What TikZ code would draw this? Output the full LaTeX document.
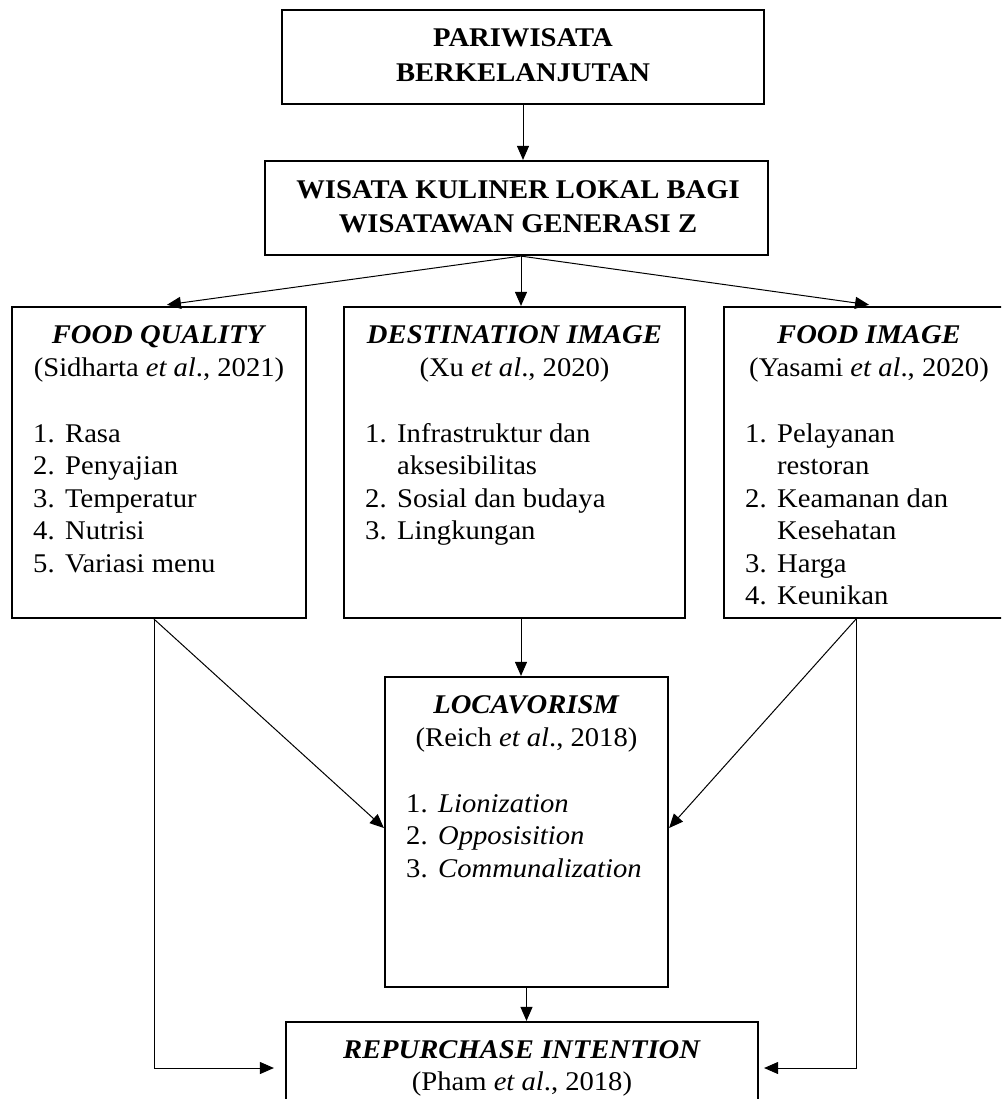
\documentclass[tikz,border=0pt]{standalone}
\usepackage{fontspec}
\setmainfont{Liberation Serif}[FakeStretch=1.06]
\usetikzlibrary{arrows.meta,calc}
\newcommand\diagsize{\fontsize{27}{32.5}\selectfont}

\tikzset{
  box/.style={draw, line width=2.2pt, rectangle, inner sep=0pt, anchor=center},
  conn/.style={line width=1pt, -{Triangle[length=14pt,width=12pt]}},
  txt/.style={inner sep=0pt, anchor=base, font=\diagsize},
  itm/.style={inner sep=0pt, anchor=base west, font=\diagsize},
}
\newcommand\nr[1]{\makebox[32pt][l]{#1}}

\begin{document}
\begin{tikzpicture}[x=1pt, y=-1pt]
  \path[use as bounding box] (0,0) rectangle (1001,1099);
  \clip (0,0) rectangle (1001,1099);
  \fill[white] (0,0) rectangle (1001,1099);

  % ---- boxes ----
  \node[box, minimum width=482pt, minimum height=94pt] (top) at (523,57) {};
  \node[box, minimum width=503pt, minimum height=94pt] (wk)  at (516.5,208) {};
  \node[box, minimum width=294pt, minimum height=311pt] (fq) at (159,462.5) {};
  \node[box, minimum width=341pt, minimum height=311pt] (di) at (514.5,462.5) {};
  \node[box, minimum width=290pt, minimum height=311pt] (fi) at (869,462.5) {};
  \node[box, minimum width=283pt, minimum height=310pt] (lo) at (526.5,832) {};
  \node[box, minimum width=472pt, minimum height=92pt] (rp) at (522,1068) {};

  % ---- texts ----
  \node[txt] (top1) at (523,47) {\textbf{PARIWISATA}};
  \node[txt] (top2) at (523,82) {\textbf{BERKELANJUTAN}};

  \node[txt] (wk1) at (518,199) {\textbf{WISATA KULINER LOKAL BAGI}};
  \node[txt] (wk2) at (518,233) {\textbf{WISATAWAN GENERASI Z}};

  \node[txt] (fqt) at (159,343) {\textbf{\textit{FOOD QUALITY}}};
  \node[txt] (fqc) at (159,376) {(Sidharta \textit{et al}., 2021)};
  \node[itm] (fq1) at (33,442)   {\nr{1.}Rasa};
  \node[itm] (fq2) at (33,474.5) {\nr{2.}Penyajian};
  \node[itm] (fq3) at (33,507)   {\nr{3.}Temperatur};
  \node[itm] (fq4) at (33,539.5) {\nr{4.}Nutrisi};
  \node[itm] (fq5) at (33,572)   {\nr{5.}Variasi menu};

  \node[txt] (dit) at (514.5,343) {\textbf{\textit{DESTINATION IMAGE}}};
  \node[txt] (dic) at (514.5,376) {(Xu \textit{et al}., 2020)};
  \node[itm] (di1) at (365,442)   {\nr{1.}Infrastruktur dan};
  \node[itm] (di1b) at (397,474.5) {aksesibilitas};
  \node[itm] (di2) at (365,507)   {\nr{2.}Sosial dan budaya};
  \node[itm] (di3) at (365,539.5) {\nr{3.}Lingkungan};

  \node[txt] (fit) at (869,343) {\textbf{\textit{FOOD IMAGE}}};
  \node[txt] (fic) at (869,376) {(Yasami \textit{et al}., 2020)};
  \node[itm] (fi1) at (745,442)   {\nr{1.}Pelayanan};
  \node[itm] (fi1b) at (777,474.5) {restoran};
  \node[itm] (fi2) at (745,507)   {\nr{2.}Keamanan dan};
  \node[itm] (fi2b) at (777,539.5) {Kesehatan};
  \node[itm] (fi3) at (745,572)   {\nr{3.}Harga};
  \node[itm] (fi4) at (745,604.5) {\nr{4.}Keunikan};

  \node[txt] (lot) at (526.5,713) {\textbf{\textit{LOCAVORISM}}};
  \node[txt] (loc) at (526.5,746) {(Reich \textit{et al}., 2018)};
  \node[itm] (lo1) at (406,812)   {\nr{1.}\textit{Lionization}};
  \node[itm] (lo2) at (406,844.5) {\nr{2.}\textit{Opposisition}};
  \node[itm] (lo3) at (406,877)   {\nr{3.}\textit{Communalization}};

  \node[txt] (rpt) at (522,1058) {\textbf{\textit{REPURCHASE INTENTION}}};
  \node[txt] (rpc) at (522,1090) {(Pham \textit{et al}., 2018)};

  % ---- connector end points on box edges ----
  \coordinate (wkS) at ($(wk.south)+(4.5,0)$);
  \coordinate (diN) at ($(di.north)+(6.5,0)$);
  \coordinate (diS) at ($(di.south)+(6.5,0)$);
  \coordinate (fiN) at ($(fi.north)+(8,0)$);
  \coordinate (fqS) at ($(fq.south)+(-5,0)$);
  \coordinate (fiS) at ($(fi.south)+(-13,0)$);
  \coordinate (loW) at ($(lo.west)+(0,-4)$);
  \coordinate (loE) at ($(lo.east)+(0,-4)$);

  % ---- connectors ----
  \draw[conn] (top.south) -- (top.south |- wk.north);
  \draw[conn, shorten >=8pt] (wkS) -- (fq.north);
  \draw[conn] (wkS) -- (diN);
  \draw[conn, shorten >=8pt] (wkS) -- (fiN);
  \draw[conn] (diS) -- (diS |- lo.north);
  \draw[conn] (fqS) -- (loW);
  \draw[conn] (fiS) -- (loE);
  \draw[conn, shorten >=11pt] (fqS) |- (rp.west);
  \draw[conn, shorten >=5pt] (fiS) |- (rp.east);
  \draw[conn] (lo.south) -- (lo.south |- rp.north);
\end{tikzpicture}
\end{document}
